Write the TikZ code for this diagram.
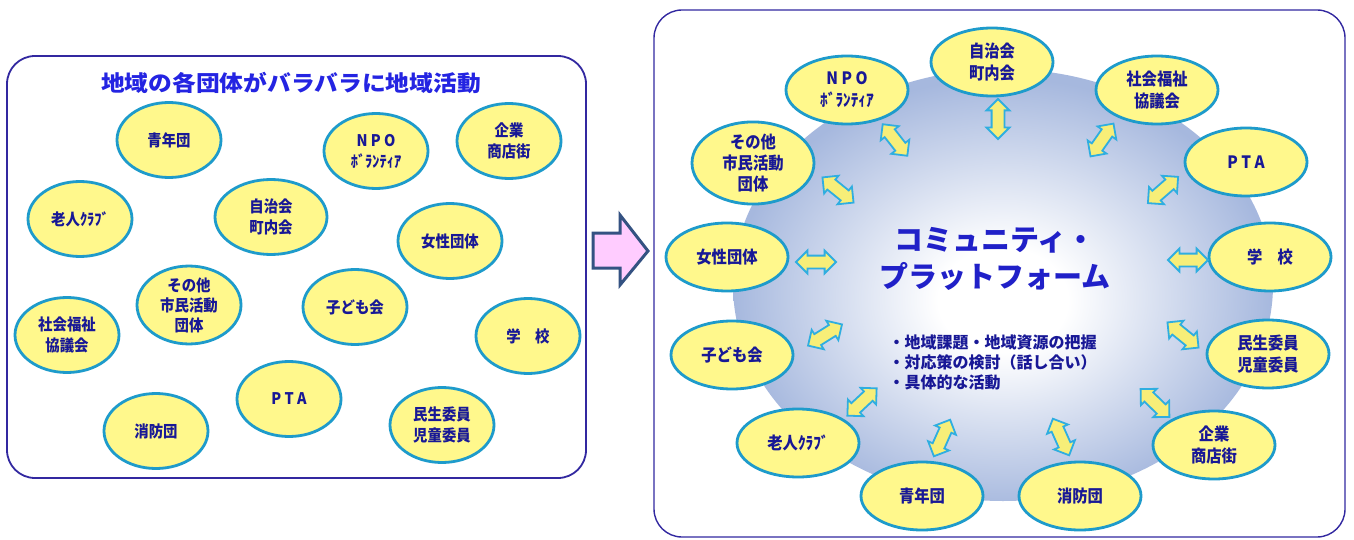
\documentclass[tikz,border=0pt]{standalone}
\usepackage{fontspec}
\setmainfont{Noto Sans CJK JP}
\newfontfamily\jpc{Noto Sans CJK JP}[FakeStretch=0.9]
\newfontfamily\jpw{Noto Sans CJK JP}[FakeStretch=1.08]
\usetikzlibrary{shapes.geometric,shapes.arrows}
\definecolor{elfill}{RGB}{255,248,140}
\definecolor{elline}{RGB}{30,155,203}
\definecolor{txt}{RGB}{24,24,150}
\definecolor{titleblue}{RGB}{36,36,226}
\definecolor{bigblue}{RGB}{32,32,200}
\definecolor{frame}{RGB}{50,40,160}
\definecolor{circblue}{RGB}{166,184,222}
\definecolor{arfill}{RGB}{247,238,120}
\definecolor{arline}{RGB}{47,174,224}
\definecolor{pinkfill}{RGB}{255,204,255}
\definecolor{arrowedge}{RGB}{52,82,130}
\pgfdeclareradialshading{platform}{\pgfpoint{0bp}{-2bp}}{color(0bp)=(white); color(6bp)=(white); color(25bp)=(circblue); color(50bp)=(circblue)}
\begin{document}
\begin{tikzpicture}[x=1pt,y=-1pt,
  org/.style={ellipse, draw=elline, line width=2.8pt, fill=elfill, inner sep=0pt,
    text=txt, font=\jpc\bfseries\fontsize{16}{21}\selectfont, align=center},
  lorg/.style={org, minimum width=104pt, minimum height=75pt},
  rorg/.style={org, minimum width=122pt, minimum height=68pt,
    font=\jpc\bfseries\fontsize{17}{22}\selectfont},
  link/.style={double arrow, draw=arline, line width=1.8pt, fill=arfill,
    minimum height=40pt, inner sep=5.5pt, double arrow head extend=5pt},
  panel/.style={draw=frame, rounded corners=28pt, fill=white}
]
\useasboundingbox (0,0) rectangle (1354,540);
\fill[white] (0,0) rectangle (1354,540);

% ---------- left panel ----------
\draw[panel, line width=1.8pt] (7,56) rectangle (586,478);
\node[text=titleblue, font=\jpw\bfseries\fontsize{22}{26}\selectfont] (ltitle) at (291,83) {地域の各団体がバラバラに地域活動};

\node[lorg] (l1)  at (169,140) {青年団};
\node[lorg] (l2)  at (376,151) {N P O\\ﾎﾞﾗﾝﾃｨｱ};
\node[lorg] (l3)  at (509,141) {企業\\商店街};
\node[lorg] (l4)  at (80,219)  {老人ｸﾗﾌﾞ};
\node[lorg, minimum width=112pt] (l5) at (271,217) {自治会\\町内会};
\node[lorg] (l6)  at (450,241) {女性団体};
\node[lorg, font=\jpc\bfseries\fontsize{16}{20}\selectfont] (l7) at (189,305) {その他\\市民活動\\団体};
\node[lorg] (l8)  at (355,307) {子ども会};
\node[lorg] (l9)  at (67,335)  {社会福祉\\協議会};
\node[lorg] (l10) at (528,336) {学　校};
\node[lorg] (l11) at (289,399) {P T A};
\node[lorg] (l12) at (156,431) {消防団};
\node[lorg] (l13) at (442,425) {民生委員\\児童委員};

% ---------- middle arrow ----------
\draw[fill=pinkfill, draw=arrowedge, line width=3pt, line join=miter]
  (593,233) -- (620,233) -- (620,215) -- (648,251) -- (620,285) -- (620,268) -- (593,268) -- cycle;

% ---------- right panel ----------
\draw[panel, line width=1.4pt] (654,10) rectangle (1345,537);
\shade[shading=platform] (1003,285) ellipse [x radius=270pt, y radius=216pt];

\node[text=bigblue, font=\bfseries\fontsize{29}{37}\selectfont, align=center] (cp) at (995,259) {コミュニティ・\\プラットフォーム};
\node[text=txt, anchor=north west, font=\bfseries\fontsize{16}{20}\selectfont, align=left] (cl) at (885,331)
  {・地域課題・地域資源の把握\\・対応策の検討（話し合い）\\・具体的な活動};

\node[rorg] (r1)  at (992,62)   {自治会\\町内会};
\node[rorg] (r2)  at (847,90)   {N P O\\ﾎﾞﾗﾝﾃｨｱ};
\node[rorg] (r3)  at (1157,90)  {社会福祉\\協議会};
\node[rorg, font=\jpc\bfseries\fontsize{17}{21}\selectfont] (r4) at (753,163) {その他\\市民活動\\団体};
\node[rorg] (r5)  at (1246,162) {P T A};
\node[rorg] (r6)  at (727,257)  {女性団体};
\node[rorg] (r7)  at (1270,257) {学　校};
\node[rorg] (r8)  at (732,355)  {子ども会};
\node[rorg] (r9)  at (1268,354) {民生委員\\児童委員};
\node[rorg] (r10) at (798,443)  {老人ｸﾗﾌﾞ};
\node[rorg] (r11) at (1214,445) {企業\\商店街};
\node[rorg] (r12) at (922,496)  {青年団};
\node[rorg] (r13) at (1080,496) {消防団};

% ---------- double arrows ----------
\node[link, rotate=90]  (a1)  at (998,119)  {};
\node[link, rotate=-52] (a2)  at (895,140)  {};
\node[link, rotate=55]  (a3)  at (1102,140) {};
\node[link, rotate=-39] (a4)  at (838,190)  {};
\node[link, rotate=41]  (a5)  at (1163,190) {};
\node[link, rotate=0]   (a6)  at (816,262)  {};
\node[link, rotate=0]   (a7)  at (1188,260) {};
\node[link, rotate=32]  (a8)  at (825,335)  {};
\node[link, rotate=-39] (a9)  at (1183,335) {};
\node[link, rotate=43]  (a10) at (862,402)  {};
\node[link, rotate=-44] (a11) at (1155,403) {};
\node[link, rotate=66]  (a12) at (942,438)  {};
\node[link, rotate=-66] (a13) at (1061,437) {};
\end{tikzpicture}
\end{document}
